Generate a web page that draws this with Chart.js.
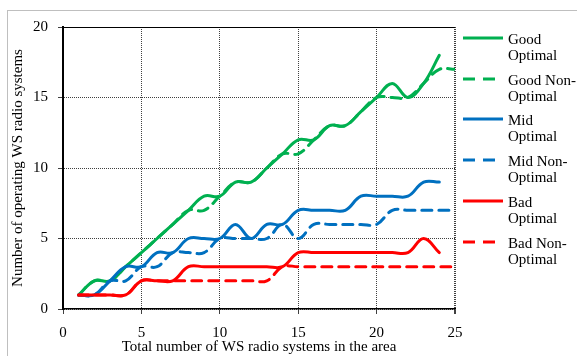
<!DOCTYPE html>
<html>
<head>
<meta charset="utf-8">
<script src="https://cdn.jsdelivr.net/npm/chart.js@4.4.0/dist/chart.umd.min.js"></script>
<style>
    body { margin: 0; background: #fff; }
    #marco { position: relative; width: 577px; height: 356px; overflow: hidden; font-family: "Liberation Serif", "Times New Roman", serif; }
    #borde { position: absolute; left: 7px; top: 10px; width: 600px; height: 400px; border-top: 1px solid #bfbfbf; border-left: 1px solid #bfbfbf; }
    #grafico { position: absolute; left: 0; top: 0; }
    .item { position: absolute; left: 462px; width: 115px; height: 34px; }
    .item svg { position: absolute; left: 0; top: 0; }
    .item span { position: absolute; left: 46px; top: 1px; font-size: 15px; line-height: 16px; color: #000; white-space: nowrap; }
</style>
</head>
<body>
<div id="marco">
    <div id="borde"></div>
    <canvas id="grafico" width="577" height="356"></canvas>
    <div id="leyenda"></div>
</div>
<script>
// Datos
var xOptimal = [1, 2, 3, 4, 5, 6, 7, 8, 9, 10, 11, 12, 13, 14, 15, 16, 17, 18, 19, 20, 21, 22, 23, 24];
var xNonOptimal = [1, 2, 3, 4, 5, 6, 7, 8, 9, 10, 11, 12, 13, 14, 15, 16, 17, 18, 19, 20, 21, 22, 23, 24, 25];

var goodOptimal = [1, 2, 2, 3, 4, 5, 6, 7, 8, 8, 9, 9, 10, 11, 12, 12, 13, 13, 14, 15, 16, 15, 16, 18];
var goodNonOptimal = [1, 2, 2, 3, 4, 5, 6, 7, 7, 8, 9, 9, 10, 11, 11, 12, 13, 13, 14, 15, 15, 15, 16, 17, 17];
var midOptimal = [1, 1, 2, 3, 3, 4, 4, 5, 5, 5, 6, 5, 6, 6, 7, 7, 7, 7, 8, 8, 8, 8, 9, 9];
var midNonOptimal = [1, 1, 2, 2, 3, 3, 4, 4, 4, 5, 5, 5, 5, 6, 5, 6, 6, 6, 6, 6, 7, 7, 7, 7, 7];
var badOptimal = [1, 1, 1, 1, 2, 2, 2, 3, 3, 3, 3, 3, 3, 3, 4, 4, 4, 4, 4, 4, 4, 4, 5, 4];
var badNonOptimal = [1, 1, 1, 1, 2, 2, 2, 2, 2, 2, 2, 2, 2, 3, 3, 3, 3, 3, 3, 3, 3, 3, 3, 3, 3];

var xTicks = [0, 5, 10, 15, 20, 25];
var yTicks = [0, 5, 10, 15, 20];

var nombres = ['Good Optimal', 'Good Non-Optimal', 'Mid Optimal', 'Mid Non-Optimal', 'Bad Optimal', 'Bad Non-Optimal'];
var lineasLeyenda = [['Good', 'Optimal'], ['Good Non-', 'Optimal'], ['Mid', 'Optimal'], ['Mid Non-', 'Optimal'], ['Bad', 'Optimal'], ['Bad Non-', 'Optimal']];

var verde = '#00b050';
var azul = '#0070c0';
var rojo = '#ff0000';
var guiones = [10, 7];

function puntos(xs, ys) {
    return xs.map(function(x, i) { return { x: x, y: ys[i] }; });
}

function serie(i, xs, ys, color, discontinua) {
    return {
        label: nombres[i],
        data: puntos(xs, ys),
        borderColor: color,
        backgroundColor: color,
        borderWidth: 3,
        borderDash: discontinua ? guiones : [],
        borderCapStyle: 'round',
        pointRadius: 0,
        tension: 0.4,
        fill: false,
        order: 5 - i
    };
}

var fuente = { family: 'Liberation Serif', size: 15 };

function grafico() {
    var ctx = document.getElementById('grafico').getContext('2d');
    var series = [
        serie(0, xOptimal, goodOptimal, verde, false),
        serie(1, xNonOptimal, goodNonOptimal, verde, true),
        serie(2, xOptimal, midOptimal, azul, false),
        serie(3, xNonOptimal, midNonOptimal, azul, true),
        serie(4, xOptimal, badOptimal, rojo, false),
        serie(5, xNonOptimal, badNonOptimal, rojo, true)
    ];
    new Chart(ctx, {
        type: 'line',
        data: { datasets: series },
        options: {
            responsive: false,
            animation: false,
            layout: { padding: { left: 0, top: 27, right: 122, bottom: 0 } },
            plugins: { legend: { display: false }, tooltip: { enabled: false } },
            scales: {
                x: {
                    type: 'linear',
                    min: 0,
                    max: 25,
                    afterBuildTicks: function(s) { s.ticks = xTicks.map(function(v) { return { value: v }; }); },
                    afterFit: function(s) { s.height = 47; },
                    ticks: { font: fuente, color: '#000', padding: 10, maxRotation: 0 },
                    grid: {
                        color: '#404040',
                        lineWidth: function(c) { return c.tick && c.tick.value === 25 ? 2 : 1; },
                        tickLength: 5,
                        tickColor: '#404040'
                    },
                    border: { color: '#000', width: 1.5, dash: [1, 1] },
                    title: { display: true, text: 'Total number of WS radio systems in the area', font: fuente, color: '#000', padding: { top: 0, bottom: 0 } }
                },
                y: {
                    min: 0,
                    max: 20,
                    afterBuildTicks: function(s) { s.ticks = yTicks.map(function(v) { return { value: v }; }); },
                    afterFit: function(s) { s.width = 63; },
                    ticks: { font: fuente, color: '#000', padding: 10 },
                    grid: {
                        color: function(c) { return c.tick && c.tick.value === 20 ? '#000' : '#404040'; },
                        tickLength: 5,
                        tickColor: '#404040'
                    },
                    border: {
                        color: '#000',
                        width: 2,
                        dash: function(c) { return c.tick && c.tick.value === 20 ? [] : [1, 1]; }
                    },
                    title: { display: true, text: 'Number of operating WS radio systems', font: fuente, color: '#000', padding: { top: 9, bottom: 0 } }
                }
            }
        }
    });
}

function leyenda() {
    var cont = document.getElementById('leyenda');
    var colores = [verde, verde, azul, azul, rojo, rojo];
    for (var i = 0; i < nombres.length; i++) {
        var item = document.createElement('div');
        item.className = 'item';
        item.style.top = (30 + i * 40.7) + 'px';
        var dash = (i % 2 === 1) ? ' stroke-dasharray="12,8"' : '';
        item.innerHTML = '<svg width="44" height="16"><line x1="1" y1="8" x2="41" y2="8" stroke="' + colores[i] +
            '" stroke-width="3"' + dash + '/></svg><span>' + lineasLeyenda[i].join('<br>') + '</span>';
        cont.appendChild(item);
    }
}

grafico();
leyenda();
</script>
</body>
</html>
